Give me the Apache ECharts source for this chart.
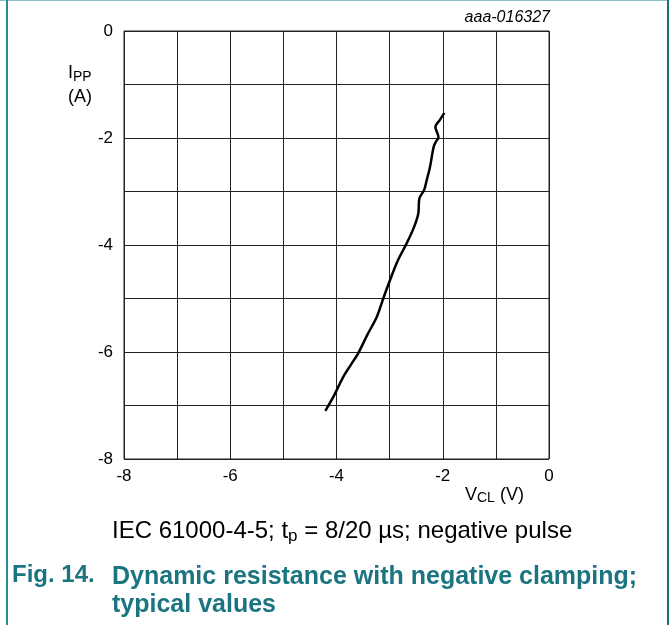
<!DOCTYPE html>
<html>
<head>
<meta charset="utf-8">
<script src="https://cdn.jsdelivr.net/npm/echarts@6/dist/echarts.min.js"></script>
<style>
  html, body { margin: 0; padding: 0; background: #fff; }
  #chart { width: 669px; height: 625px; }
</style>
</head>
<body>
<div id="chart"></div>
<script>
// V_CL (V) vs I_PP (A)
const vcl = [-1.97, -2.06, -2.14, -2.08, -2.13, -2.17, -2.24, -2.30, -2.35, -2.44, -2.46, -2.55, -2.68, -2.85, -2.99, -3.12, -3.24, -3.42, -3.59, -3.73, -3.87, -4.06, -4.21]
const ipp = [-1.53, -1.67, -1.79, -1.99, -2.07, -2.16, -2.54, -2.78, -2.97, -3.13, -3.41, -3.69, -3.97, -4.30, -4.65, -5.00, -5.34, -5.68, -6.02, -6.24, -6.46, -6.84, -7.10]
const xTicks = [-8, -6, -4, -2, 0]
const yTicks = [-8, -6, -4, -2, 0]

const font = '"Liberation Sans", Arial, sans-serif'
const teal = '#1a7580'

const chart = echarts.init(document.getElementById('chart'), null, { renderer: 'canvas' })

const option = {
  animation: false,
  backgroundColor: '#fff',
  grid: { left: 124, right: 120, top: 31, bottom: 166, show: false },
  xAxis: {
    type: 'value', min: -8, max: 0, interval: 1,
    axisLine: { show: false },
    axisTick: { show: false },
    axisLabel: {
      margin: 9, color: '#000', fontFamily: font, fontSize: 17,
      formatter: v => xTicks.includes(v) ? String(v) : ''
    },
    splitLine: { show: true, lineStyle: { color: '#222', width: 1 } }
  },
  yAxis: {
    type: 'value', min: -8, max: 0, interval: 1,
    axisLine: { show: false },
    axisTick: { show: false },
    axisLabel: {
      margin: 11, color: '#000', fontFamily: font, fontSize: 17,
      formatter: v => yTicks.includes(v) ? String(v) : ''
    },
    splitLine: { show: true, lineStyle: { color: '#222', width: 1 } }
  },
  series: [{
    type: 'line',
    data: vcl.map((v, i) => [v, ipp[i]]),
    showSymbol: false,
    smooth: 0.3,
    lineStyle: { color: '#000', width: 2.5 }
  }],
  graphic: [
    // outer frame
    { type: 'rect', shape: { x: 0, y: 0, width: 669, height: 1 }, style: { fill: '#8cbfc4' }, silent: true },
    { type: 'rect', shape: { x: 6, y: 0, width: 2, height: 625 }, style: { fill: '#2a8a95' }, silent: true },
    { type: 'rect', shape: { x: 667, y: 0, width: 2, height: 625 }, style: { fill: '#1a6f78' }, silent: true },
    // plot border
    { type: 'rect', shape: { x: 124, y: 31, width: 425, height: 428 }, style: { fill: 'none', stroke: '#222', lineWidth: 1 }, silent: true, z: 10 },
    {
      type: 'text', right: 119, top: 10,
      style: { text: 'aaa-016327', font: 'italic 16px ' + font, fill: '#000' }
    },
    {
      type: 'text', left: 68, top: 63,
      style: {
        text: '{m|I}{s|PP}\n{m|(A)}',
        rich: {
          m: { font: '18px ' + font, fill: '#000', lineHeight: 24 },
          s: { font: '14px ' + font, fill: '#000', padding: [7, 0, 0, 0], lineHeight: 24 }
        }
      }
    },
    {
      type: 'text', left: 465, top: 486,
      style: {
        text: '{m|V}{s|CL}{m| (V)}',
        rich: {
          m: { font: '18px ' + font, fill: '#000' },
          s: { font: '14px ' + font, fill: '#000', padding: [7, 0, 0, 0] }
        }
      }
    },
    {
      type: 'text', left: 112, top: 519,
      style: {
        text: '{m|IEC 61000-4-5; t}{s|p}{m| = 8/20 µs; negative pulse}',
        rich: {
          m: { font: '24px ' + font, fill: '#000' },
          s: { font: '17px ' + font, fill: '#000', padding: [10, 0, 0, 0] }
        }
      }
    },
    {
      type: 'text', left: 12, top: 563,
      style: { text: 'Fig. 14.', font: 'bold 24px ' + font, fill: teal }
    },
    {
      type: 'text', left: 112, top: 563,
      style: { text: 'Dynamic resistance with negative clamping;\ntypical values', font: 'bold 25px ' + font, fill: teal, lineHeight: 28 }
    }
  ]
}

chart.setOption(option)
window.addEventListener('resize', chart.resize)
</script>
</body>
</html>
